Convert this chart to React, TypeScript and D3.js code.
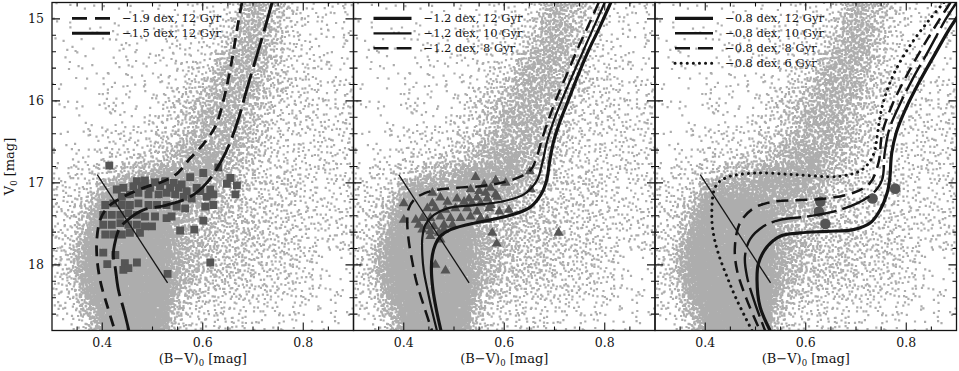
import React from 'react';
import * as d3 from 'd3';

type Pt = [number, number];

// ---------- axes ----------
const X_DOMAIN: [number, number] = [0.3, 0.9];
const Y_DOMAIN: [number, number] = [14.8, 18.8];
const X_MAJOR = [0.4, 0.6, 0.8];
const X_MINOR_STEP = 0.05;
const Y_MAJOR = [15, 16, 17, 18];
const Y_MINOR_STEP = 0.2;

// ---------- background field-star density ----------
// columns: (B-V)0 from 0.30 in steps of 0.025 ; rows: V0 from 14.8 in steps of 0.2
const FIELD_COLOR_START = 0.3;
const FIELD_COLOR_STEP = 0.025;
const FIELD_MAG_START = 14.8;
const FIELD_MAG_STEP = 0.2;
const FIELD_DENSITY = [
  '111111111112224676532222',
  '111111111222235776432222',
  '111111112222346776432222',
  '111111222223467775433222',
  '111122222234577765433222',
  '111122222345677765433333',
  '111222223456777654333333',
  '111222234456777654333333',
  '222233334567777654333333',
  '222333455677876543333333',
  '333456778888876544443333',
  '334688888888765544443333',
  '345799998877665544443333',
  '346899999876655544443333',
  '347999999876655554443333',
  '358999999876655544443222',
  '358999999876555544433222',
  '347999999865544444332222',
  '236899999754333333222222',
  '224799999643333322222222',
];

// ---------- cluster member symbols ----------
const SQUARES_P1: Pt[] = [
  [0.414, 16.79], [0.631, 16.81], [0.601, 16.88], [0.575, 16.93], [0.655, 16.94],
  [0.648, 17.01], [0.668, 17.03], [0.665, 17.14], [0.615, 17.08], [0.621, 17.14],
  [0.595, 17.1], [0.469, 16.98], [0.485, 16.97], [0.505, 16.99], [0.525, 16.98],
  [0.542, 17.0], [0.558, 17.02], [0.429, 17.08], [0.442, 17.06], [0.462, 17.04],
  [0.479, 17.04], [0.495, 17.06], [0.515, 17.04], [0.535, 17.06], [0.552, 17.06],
  [0.568, 17.1], [0.588, 17.06], [0.439, 17.17], [0.455, 17.14], [0.472, 17.12],
  [0.492, 17.14], [0.512, 17.14], [0.528, 17.12], [0.545, 17.14], [0.562, 17.17],
  [0.578, 17.19], [0.608, 17.17], [0.621, 17.27], [0.605, 17.29], [0.406, 17.27],
  [0.422, 17.25], [0.439, 17.27], [0.455, 17.27], [0.472, 17.25], [0.492, 17.27],
  [0.509, 17.27], [0.528, 17.27], [0.548, 17.29], [0.565, 17.31], [0.402, 17.39],
  [0.419, 17.39], [0.436, 17.39], [0.452, 17.37], [0.469, 17.39], [0.485, 17.41],
  [0.505, 17.41], [0.528, 17.43], [0.538, 17.41], [0.402, 17.51], [0.419, 17.51],
  [0.436, 17.49], [0.452, 17.51], [0.469, 17.51], [0.485, 17.53], [0.499, 17.53],
  [0.406, 17.63], [0.422, 17.63], [0.439, 17.63], [0.455, 17.61], [0.475, 17.61],
  [0.601, 17.46], [0.555, 17.58], [0.583, 17.57], [0.402, 17.85], [0.426, 17.88],
  [0.41, 17.99], [0.445, 17.98], [0.469, 17.97], [0.442, 18.06], [0.452, 18.04],
  [0.53, 18.11], [0.615, 17.97],
];

const TRIANGLES_P2: Pt[] = [
  [0.543, 16.93], [0.651, 16.86], [0.583, 16.97], [0.603, 17.0], [0.56, 17.02],
  [0.573, 17.06], [0.533, 17.08], [0.55, 17.1], [0.563, 17.12], [0.583, 17.14],
  [0.457, 17.12], [0.653, 17.08], [0.473, 17.18], [0.506, 17.19], [0.53, 17.19],
  [0.546, 17.18], [0.566, 17.19], [0.586, 17.17], [0.4, 17.25], [0.457, 17.25],
  [0.487, 17.23], [0.52, 17.23], [0.536, 17.25], [0.553, 17.25], [0.573, 17.27],
  [0.447, 17.31], [0.463, 17.31], [0.483, 17.33], [0.503, 17.31], [0.526, 17.31],
  [0.546, 17.35], [0.57, 17.31], [0.59, 17.35], [0.609, 17.33], [0.4, 17.45],
  [0.424, 17.45], [0.437, 17.43], [0.453, 17.43], [0.473, 17.41], [0.493, 17.43],
  [0.513, 17.43], [0.533, 17.41], [0.553, 17.43], [0.566, 17.45], [0.43, 17.51],
  [0.447, 17.53], [0.46, 17.53], [0.48, 17.51], [0.497, 17.51], [0.437, 17.57],
  [0.453, 17.59], [0.47, 17.61], [0.48, 17.57], [0.453, 17.65], [0.473, 17.69],
  [0.576, 17.61], [0.585, 17.74], [0.708, 17.61], [0.463, 18.0], [0.483, 18.07],
];

const CIRCLES_P3: Pt[] = [
  [0.629, 17.23], [0.626, 17.35], [0.639, 17.5], [0.733, 17.19], [0.778, 17.07],
];

// ---------- isochrones [(B-V)0, V0] ----------
const ISO_M19_12: Pt[] = [
  [0.678, 14.8], [0.669, 15.1], [0.661, 15.4], [0.652, 15.7], [0.641, 16.0], [0.626, 16.3],
  [0.602, 16.52], [0.575, 16.7], [0.55, 16.88], [0.522, 16.98], [0.482, 17.06], [0.442, 17.17],
  [0.412, 17.29], [0.396, 17.45], [0.389, 17.71], [0.39, 17.95], [0.397, 18.22], [0.41, 18.5],
  [0.425, 18.8],
];
const ISO_M15_12: Pt[] = [
  [0.738, 14.8], [0.722, 15.15], [0.705, 15.5], [0.688, 15.85], [0.672, 16.2], [0.655, 16.5],
  [0.638, 16.72], [0.608, 17.0], [0.575, 17.17], [0.528, 17.27], [0.482, 17.33], [0.455, 17.43],
  [0.435, 17.55], [0.426, 17.71], [0.422, 17.88], [0.426, 18.04], [0.432, 18.3], [0.443, 18.55],
  [0.453, 18.8],
];
const ISO_M12_12: Pt[] = [
  [0.812, 14.8], [0.79, 15.1], [0.768, 15.38], [0.746, 15.7], [0.727, 16.0], [0.711, 16.25],
  [0.698, 16.5], [0.69, 16.75], [0.685, 16.95], [0.675, 17.12], [0.653, 17.29], [0.62, 17.38],
  [0.573, 17.45], [0.526, 17.51], [0.493, 17.57], [0.473, 17.65], [0.463, 17.75], [0.457, 17.88],
  [0.455, 18.04], [0.458, 18.3], [0.465, 18.55], [0.474, 18.8],
];
const ISO_M12_10: Pt[] = [
  [0.8, 14.8], [0.778, 15.1], [0.758, 15.38], [0.735, 15.7], [0.714, 16.0], [0.698, 16.25],
  [0.685, 16.5], [0.676, 16.75], [0.665, 16.97], [0.639, 17.14], [0.593, 17.23], [0.54, 17.27],
  [0.487, 17.31], [0.46, 17.39], [0.443, 17.51], [0.437, 17.67], [0.437, 17.88], [0.44, 18.08],
  [0.447, 18.3], [0.456, 18.55], [0.466, 18.8],
];
const ISO_M12_8: Pt[] = [
  [0.788, 14.8], [0.766, 15.1], [0.745, 15.38], [0.723, 15.7], [0.702, 16.0], [0.687, 16.25],
  [0.675, 16.47], [0.665, 16.68], [0.653, 16.84], [0.626, 16.94], [0.593, 17.0], [0.553, 17.04],
  [0.506, 17.06], [0.453, 17.1], [0.423, 17.19], [0.41, 17.31], [0.407, 17.47], [0.41, 17.71],
  [0.417, 17.96], [0.425, 18.2], [0.44, 18.5], [0.456, 18.8],
];
const ISO_M08_12: Pt[] = [
  [0.91, 14.9], [0.885, 15.13], [0.858, 15.42], [0.825, 15.78], [0.798, 16.11], [0.78, 16.39],
  [0.771, 16.64], [0.767, 16.96], [0.762, 17.12], [0.748, 17.33], [0.728, 17.49], [0.695, 17.57],
  [0.642, 17.59], [0.589, 17.61], [0.549, 17.65], [0.523, 17.78], [0.506, 17.98], [0.503, 18.18],
  [0.509, 18.51], [0.529, 18.8],
];
const ISO_M08_10: Pt[] = [
  [0.9, 14.8], [0.878, 15.01], [0.845, 15.38], [0.812, 15.74], [0.785, 16.07], [0.766, 16.35],
  [0.757, 16.64], [0.752, 16.96], [0.735, 17.12], [0.702, 17.25], [0.655, 17.35], [0.602, 17.41],
  [0.549, 17.45], [0.516, 17.53], [0.489, 17.69], [0.479, 17.9], [0.483, 18.14], [0.499, 18.47],
  [0.519, 18.8],
];
const ISO_M08_8: Pt[] = [
  [0.888, 14.8], [0.868, 14.99], [0.835, 15.32], [0.8, 15.7], [0.772, 16.05], [0.752, 16.4],
  [0.745, 16.75], [0.728, 17.0], [0.695, 17.12], [0.642, 17.19], [0.589, 17.21], [0.536, 17.23],
  [0.496, 17.31], [0.469, 17.49], [0.459, 17.78], [0.463, 18.06], [0.483, 18.43], [0.509, 18.8],
];
const ISO_M08_6: Pt[] = [
  [0.875, 14.8], [0.846, 15.01], [0.806, 15.34], [0.773, 15.7], [0.752, 16.07], [0.743, 16.39],
  [0.735, 16.65], [0.712, 16.84], [0.665, 16.92], [0.579, 16.9], [0.499, 16.88], [0.44, 16.94],
  [0.42, 17.05], [0.413, 17.37], [0.416, 17.61], [0.426, 17.86], [0.443, 18.14], [0.463, 18.43],
  [0.493, 18.8],
];

// boundary line drawn in every panel
const CUT_LINE: Pt[] = [[0.39, 16.9], [0.53, 18.22]];

// ---------- legends ----------
const LEGEND_P1 = ['\u22121.9 dex, 12 Gyr', '\u22121.5 dex, 12 Gyr'];
const LEGEND_P2 = ['\u22121.2 dex, 12 Gyr', '\u22121.2 dex, 10 Gyr', '\u22121.2 dex, 8 Gyr'];
const LEGEND_P3 = ['\u22120.8 dex, 12 Gyr', '\u22120.8 dex, 10 Gyr', '\u22120.8 dex, 8 Gyr', '\u22120.8 dex, 6 Gyr'];

// ---------- styles ----------
type LineStyle = { w: number; dash?: string; legendDash?: string; cap?: 'round' | 'butt' };
const S_THICK: LineStyle = { w: 3.2 };
const S_THIN: LineStyle = { w: 2.2 };
const S_SHORT: LineStyle = { w: 2.8, dash: '11 7', legendDash: '15 8' };
const S_LONG: LineStyle = { w: 2.9, dash: '30 7' };
const S_LONG_THIN: LineStyle = { w: 2.4, dash: '30 6' };
const S_DASH_THIN: LineStyle = { w: 2.5, dash: '12 7', legendDash: '15 8' };
const S_DOT: LineStyle = { w: 3, dash: '0.1 6', legendDash: '0.1 6', cap: 'round' };

const INK = '#141414';
const SYMBOL = '#555555';
const FIELD = '#adadad';

const W = 959;
const H = 371;
const LEFT0 = 52;
const PANEL_W = 301.5;
const TOP = 2.5;
const BOTTOM = 330.5;

type Panel = {
  isos: { pts: Pt[]; style: LineStyle; label: string }[];
  symbols: Pt[];
  shape: 'square' | 'triangle' | 'circle';
};

const PANELS: Panel[] = [
  {
    isos: [
      { pts: ISO_M19_12, style: S_SHORT, label: LEGEND_P1[0] },
      { pts: ISO_M15_12, style: S_LONG, label: LEGEND_P1[1] },
    ],
    symbols: SQUARES_P1,
    shape: 'square',
  },
  {
    isos: [
      { pts: ISO_M12_12, style: S_THICK, label: LEGEND_P2[0] },
      { pts: ISO_M12_10, style: S_THIN, label: LEGEND_P2[1] },
      { pts: ISO_M12_8, style: S_DASH_THIN, label: LEGEND_P2[2] },
    ],
    symbols: TRIANGLES_P2,
    shape: 'triangle',
  },
  {
    isos: [
      { pts: ISO_M08_12, style: S_THICK, label: LEGEND_P3[0] },
      { pts: ISO_M08_10, style: S_LONG_THIN, label: LEGEND_P3[1] },
      { pts: ISO_M08_8, style: S_DASH_THIN, label: LEGEND_P3[2] },
      { pts: ISO_M08_6, style: S_DOT, label: LEGEND_P3[3] },
    ],
    symbols: CIRCLES_P3,
    shape: 'circle',
  },
];

const LEVEL_COUNTS = [0, 1.3, 4, 7.5, 12.5, 20, 32, 55, 105, 260];

function hash(n: number): number {
  let x = n | 0;
  x = Math.imul(x ^ (x >>> 16), 0x7feb352d);
  x = Math.imul(x ^ (x >>> 15), 0x846ca68b);
  x ^= x >>> 16;
  return (x >>> 0) / 4294967296;
}

const xs = d3.scaleLinear().domain(X_DOMAIN).range([0, PANEL_W]);
const ys = d3.scaleLinear().domain(Y_DOMAIN).range([TOP, BOTTOM]);

function buildFieldPath(): string {
  const nR = FIELD_DENSITY.length;
  const nC = FIELD_DENSITY[0].length;
  const lv = (r: number, c: number) => {
    const rr = Math.max(0, Math.min(nR - 1, r));
    const cc = Math.max(0, Math.min(nC - 1, c));
    return LEVEL_COUNTS[+FIELD_DENSITY[rr][cc]];
  };
  const SUB = 3;
  const parts: string[] = [];
  const s = 2.2;
  let seed = 1;
  for (let r = 0; r < nR * SUB; r++) {
    for (let c = 0; c < nC * SUB; c++) {
      const fr = (r + 0.5) / SUB - 0.5;
      const fc = (c + 0.5) / SUB - 0.5;
      const r0 = Math.floor(fr), c0 = Math.floor(fc);
      const tr = fr - r0, tc = fc - c0;
      const v =
        lv(r0, c0) * (1 - tr) * (1 - tc) +
        lv(r0, c0 + 1) * (1 - tr) * tc +
        lv(r0 + 1, c0) * tr * (1 - tc) +
        lv(r0 + 1, c0 + 1) * tr * tc;
      const n = v / (SUB * SUB);
      const cnt = Math.floor(n + hash(seed++ * 7919));
      for (let k = 0; k < cnt; k++) {
        const u = hash(seed * 31 + k * 2654435 + 17);
        const w = hash(seed * 57 + k * 1597334 + 91);
        seed++;
        const bv = FIELD_COLOR_START + ((c + u) / SUB) * FIELD_COLOR_STEP;
        const mag = FIELD_MAG_START + ((r + w) / SUB) * FIELD_MAG_STEP;
        const px = xs(bv), py = ys(mag);
        parts.push(`M${(px - s / 2).toFixed(1)},${(py - s / 2).toFixed(1)}h${s}v${s}h-${s}z`);
      }
    }
  }
  return parts.join('');
}

function ticksPath(): string {
  const p: string[] = [];
  const xMinor = d3.range(X_DOMAIN[0], X_DOMAIN[1] + 1e-9, X_MINOR_STEP);
  xMinor.forEach((v) => {
    const major = X_MAJOR.some((m) => Math.abs(m - v) < 1e-6);
    const L = major ? 8 : 4;
    const x = xs(v);
    if (x <= 0.5 || x >= PANEL_W - 0.5) return;
    p.push(`M${x},${BOTTOM}v${-L}M${x},${TOP}v${L}`);
  });
  const yMinor = d3.range(15, Y_DOMAIN[1] + 1e-9, Y_MINOR_STEP);
  yMinor.forEach((v) => {
    const major = Y_MAJOR.some((m) => Math.abs(m - v) < 1e-6);
    const L = major ? 8 : 4;
    const y = ys(v);
    if (y >= BOTTOM - 0.5) return;
    p.push(`M0,${y}h${L}M${PANEL_W},${y}h${-L}`);
  });
  return p.join('');
}

const line = d3
  .line<Pt>()
  .x((d) => xs(d[0]))
  .y((d) => ys(d[1]))
  .curve(d3.curveCatmullRom.alpha(0.5));

function symbolPath(shape: Panel['shape']): string {
  if (shape === 'square') return d3.symbol(d3.symbolSquare, 62)() as string;
  if (shape === 'triangle') return d3.symbol(d3.symbolTriangle, 44)() as string;
  return d3.symbol(d3.symbolCircle, 88)() as string;
}

export default function App() {
  const fieldPath = React.useMemo(() => buildFieldPath(), []);
  const tp = React.useMemo(() => ticksPath(), []);
  const font = "'DejaVu Serif', 'Liberation Serif', serif";
  return (
    <svg
      width={W}
      height={H}
      viewBox={`0 0 ${W} ${H}`}
      style={{ position: 'absolute', left: 0, top: 0, background: '#fff' }}
      fontFamily={font}
    >
      <defs>
        <clipPath id="pclip">
          <rect x={0} y={TOP} width={PANEL_W} height={BOTTOM - TOP} />
        </clipPath>
      </defs>
      {PANELS.map((panel, pi) => {
        const left = LEFT0 + pi * PANEL_W;
        const sym = symbolPath(panel.shape);
        return (
          <g key={pi} transform={`translate(${left},0)`}>
            <g clipPath="url(#pclip)">
              <path d={fieldPath} fill={FIELD} />
              {panel.symbols.map((d, i) => (
                <path
                  key={i}
                  d={sym}
                  transform={`translate(${xs(d[0])},${ys(d[1])})`}
                  fill={SYMBOL}
                />
              ))}
              {panel.isos.map((iso, i) => (
                <path
                  key={i}
                  d={line(iso.pts) as string}
                  fill="none"
                  stroke={INK}
                  strokeWidth={iso.style.w}
                  strokeDasharray={iso.style.dash}
                  strokeLinecap={iso.style.cap || 'butt'}
                />
              ))}
              <line
                x1={xs(CUT_LINE[0][0])}
                y1={ys(CUT_LINE[0][1])}
                x2={xs(CUT_LINE[1][0])}
                y2={ys(CUT_LINE[1][1])}
                stroke={INK}
                strokeWidth={1.3}
              />
            </g>
            {/* legend */}
            {panel.isos.map((iso, i) => {
              const y = 18.3 + i * 15;
              return (
                <g key={'l' + i}>
                  <line
                    x1={20}
                    x2={58}
                    y1={y}
                    y2={y}
                    stroke={INK}
                    strokeWidth={iso.style.w}
                    strokeDasharray={iso.style.legendDash}
                    strokeLinecap={iso.style.cap || 'butt'}
                  />
                  <text x={70} y={y + 4} fontSize={11.5} fill={INK}>
                    {iso.label}
                  </text>
                </g>
              );
            })}
            {/* frame and ticks */}
            <rect
              x={0}
              y={TOP}
              width={PANEL_W}
              height={BOTTOM - TOP}
              fill="none"
              stroke={INK}
              strokeWidth={1.3}
            />
            <path d={tp} stroke={INK} strokeWidth={1.1} fill="none" />
            {X_MAJOR.map((v) => (
              <text key={v} x={xs(v)} y={347} fontSize={12.5} textAnchor="middle" fill={INK}>
                {v.toFixed(1)}
              </text>
            ))}
            <text x={PANEL_W / 2} y={363} fontSize={13} textAnchor="middle" fill={INK}>
              (B{'\u2212'}V)
              <tspan fontSize={8.5} dy={3}>0</tspan>
              <tspan dy={-3}> [mag]</tspan>
            </text>
          </g>
        );
      })}
      {Y_MAJOR.map((v) => (
        <text key={v} x={44} y={ys(v) + 4.5} fontSize={12.5} textAnchor="end" fill={INK}>
          {v}
        </text>
      ))}
      <text
        transform={`translate(14,${(TOP + BOTTOM) / 2}) rotate(-90)`}
        fontSize={13}
        textAnchor="middle"
        fill={INK}
      >
        V<tspan fontSize={8.5} dy={3}>0</tspan>
        <tspan dy={-3}> [mag]</tspan>
      </text>
    </svg>
  );
}
